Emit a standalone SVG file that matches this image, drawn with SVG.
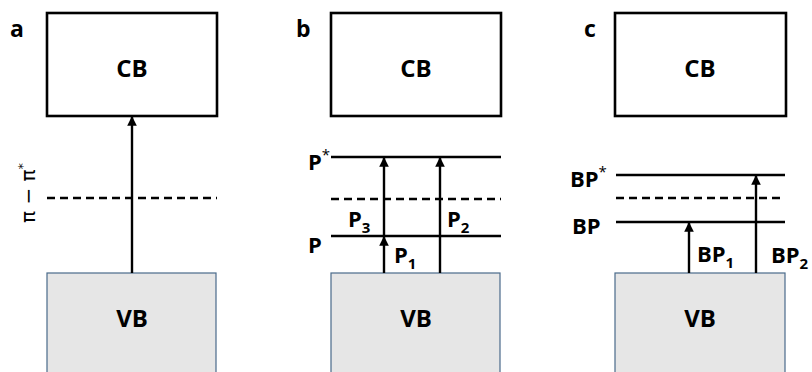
<svg xmlns="http://www.w3.org/2000/svg" width="812" height="372" viewBox="0 0 812 372">
  <defs>
    <marker id="head" viewBox="0 0 10 10" refX="9" refY="5" markerWidth="4" markerHeight="4.5" orient="auto" markerUnits="strokeWidth">
      <path d="M0,0 L10,5 L0,10 z" fill="#000"/>
    </marker>
    <style>
      .cb { fill: #fff; stroke: #000; stroke-width: 2.6; }
      .vb { fill: #e6e6e6; stroke: #4a6a8a; stroke-width: 1.2; }
      .lvl { stroke: #000; stroke-width: 2.6; fill: none; }
      .dash { stroke: #000; stroke-width: 2.6; fill: none; stroke-dasharray: 8 5; }
      .arr { stroke: #000; stroke-width: 2.4; fill: none; marker-end: url(#head); }
      .t { font-family: "Open Sans", "Liberation Sans", sans-serif; font-weight: bold; fill: #000; }
      .band { font-size: 24px; text-anchor: middle; }
      .lab { font-size: 22px; }
      .panel { font-size: 23px; }
      .sub { font-size: 15px; }
      .pi { font-family: "DejaVu Sans", "Liberation Sans", sans-serif; font-size: 20px; fill: #000; }
    </style>
  </defs>

  <!-- panel a -->
  <g id="panel-a">
    <text class="t panel" x="10" y="37">a</text>
    <g id="a-cb"><rect class="cb" x="47" y="13" width="170" height="103"/><text class="t band" x="132" y="77">CB</text></g>
    <g id="a-vb"><rect class="vb" x="47" y="273" width="169" height="110"/><text class="t band" x="132" y="327">VB</text></g>
    <g id="a-pi"><line class="dash" x1="47" y1="198" x2="217" y2="198"/>
      <text class="pi" transform="translate(35,223) rotate(-90)">π − π<tspan dy="-8" font-size="13">*</tspan></text></g>
  </g>

  <!-- panel b -->
  <g id="panel-b">
    <text class="t panel" x="296" y="37">b</text>
    <g id="b-cb"><rect class="cb" x="331" y="13" width="170" height="103"/><text class="t band" x="416" y="77">CB</text></g>
    <g id="b-vb"><rect class="vb" x="331" y="273" width="169" height="110"/><text class="t band" x="416" y="327">VB</text></g>
    <g id="b-pstar"><line class="lvl" x1="331" y1="157" x2="501" y2="157"/>
      <text class="t lab" x="308" y="170">P<tspan class="sub" dy="-10" font-weight="normal">*</tspan></text></g>
    <line class="dash" x1="331" y1="199" x2="501" y2="199"/>
    <g id="b-p"><line class="lvl" x1="331" y1="236" x2="501" y2="236"/>
      <text class="t lab" x="308" y="253">P</text></g>
  </g>

  <!-- panel c -->
  <g id="panel-c">
    <text class="t panel" x="584" y="37">c</text>
    <g id="c-cb"><rect class="cb" x="615" y="13" width="171" height="103"/><text class="t band" x="700" y="77">CB</text></g>
    <g id="c-vb"><rect class="vb" x="615" y="273" width="170" height="110"/><text class="t band" x="700" y="327">VB</text></g>
    <g id="c-bpstar"><line class="lvl" x1="616" y1="175" x2="785" y2="175"/>
      <text class="t lab" x="570" y="187">BP<tspan class="sub" dy="-10" font-weight="normal">*</tspan></text></g>
    <line class="dash" x1="616" y1="198" x2="785" y2="198"/>
    <g id="c-bp"><line class="lvl" x1="616" y1="222" x2="785" y2="222"/>
      <text class="t lab" x="572" y="234">BP</text></g>
  </g>

  <!-- transitions -->
  <g id="connectors">
    <line class="arr" x1="132" y1="273" x2="132" y2="117"/>
    <line class="arr" x1="384" y1="273" x2="384" y2="237"/>
    <line class="arr" x1="384" y1="236" x2="384" y2="158"/>
    <line class="arr" x1="440" y1="273" x2="440" y2="158"/>
    <line class="arr" x1="689" y1="273" x2="689" y2="223"/>
    <line class="arr" x1="756" y1="273" x2="756" y2="176"/>
    <text class="t lab" x="348" y="227">P<tspan class="sub" dy="6">3</tspan></text>
    <text class="t lab" x="447" y="227">P<tspan class="sub" dy="6">2</tspan></text>
    <text class="t lab" x="394" y="263">P<tspan class="sub" dy="6">1</tspan></text>
    <text class="t lab" x="697" y="262">BP<tspan class="sub" dy="6">1</tspan></text>
    <text class="t lab" x="771" y="263">BP<tspan class="sub" dy="6">2</tspan></text>
  </g>
</svg>
